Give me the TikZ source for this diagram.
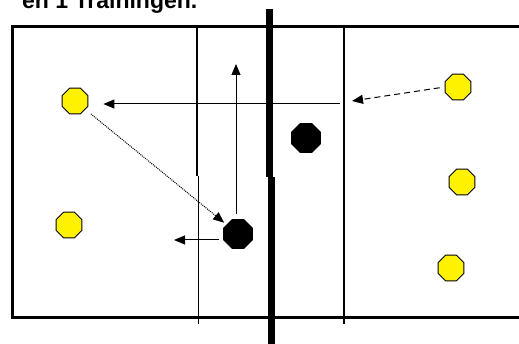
\documentclass[tikz,border=0pt]{standalone}
\usepackage{fontspec}
\setmainfont{Liberation Sans}
\usetikzlibrary{arrows.meta, shapes.geometric}

\begin{document}
\begin{tikzpicture}[x=1pt, y=-1pt, >={Triangle[length=11pt, width=9pt]},
  player/.style={regular polygon, regular polygon sides=8, draw=black, line width=0.9pt, inner sep=0pt},
  yellowplayer/.style={player, fill=yellow, minimum size=28pt},
  blackplayer/.style={player, fill=black, minimum size=31pt},
  pass/.style={->, line width=1pt}]
  \useasboundingbox (0,0) rectangle (519,344);

  \node[anchor=base west, inner sep=0pt, font=\fontsize{23}{27}\selectfont\bfseries] (title) at (22,9) {en 1 Trainingen.};

  \draw[line width=3pt] (530,27) -- (12,27) -- (12,318) -- (530,318);
  \draw[line width=1.2pt] (197,27) -- (197,176);
  \draw[line width=1.2pt] (198.5,176) -- (198.5,324);
  \draw[line width=1.2pt] (344,27) -- (344,324);
  \draw[line width=7pt] (269,9) -- (269,177);
  \draw[line width=7pt] (271.5,177) -- (271.5,344);

  \node[yellowplayer] (y1) at (75,101) {};
  \node[yellowplayer] (y2) at (69,225) {};
  \node[yellowplayer] (y3) at (458,87) {};
  \node[yellowplayer] (y4) at (462,182) {};
  \node[yellowplayer] (y5) at (451,268) {};
  \node[blackplayer] (b1) at (238,234) {};
  \node[blackplayer] (b2) at (306,138) {};

  \coordinate (hr) at (340,104);
  \coordinate (dt) at (352,101);
  \coordinate (up) at (236,64);
  \coordinate (lt) at (174,240);

  \draw[pass, shorten >=15pt] (hr) -- (y1.east |- hr);
  \draw[pass, dash pattern=on 6pt off 4pt, shorten <=5pt] (y3.west) -- (dt);
  \draw[pass, densely dotted, shorten <=7pt, shorten >=3pt] (y1) -- (b1);
  \draw[pass, shorten <=5pt] (b1.north -| up) -- (up);
  \draw[pass, shorten <=4pt] (b1.west |- lt) -- (lt);
\end{tikzpicture}
\end{document}
